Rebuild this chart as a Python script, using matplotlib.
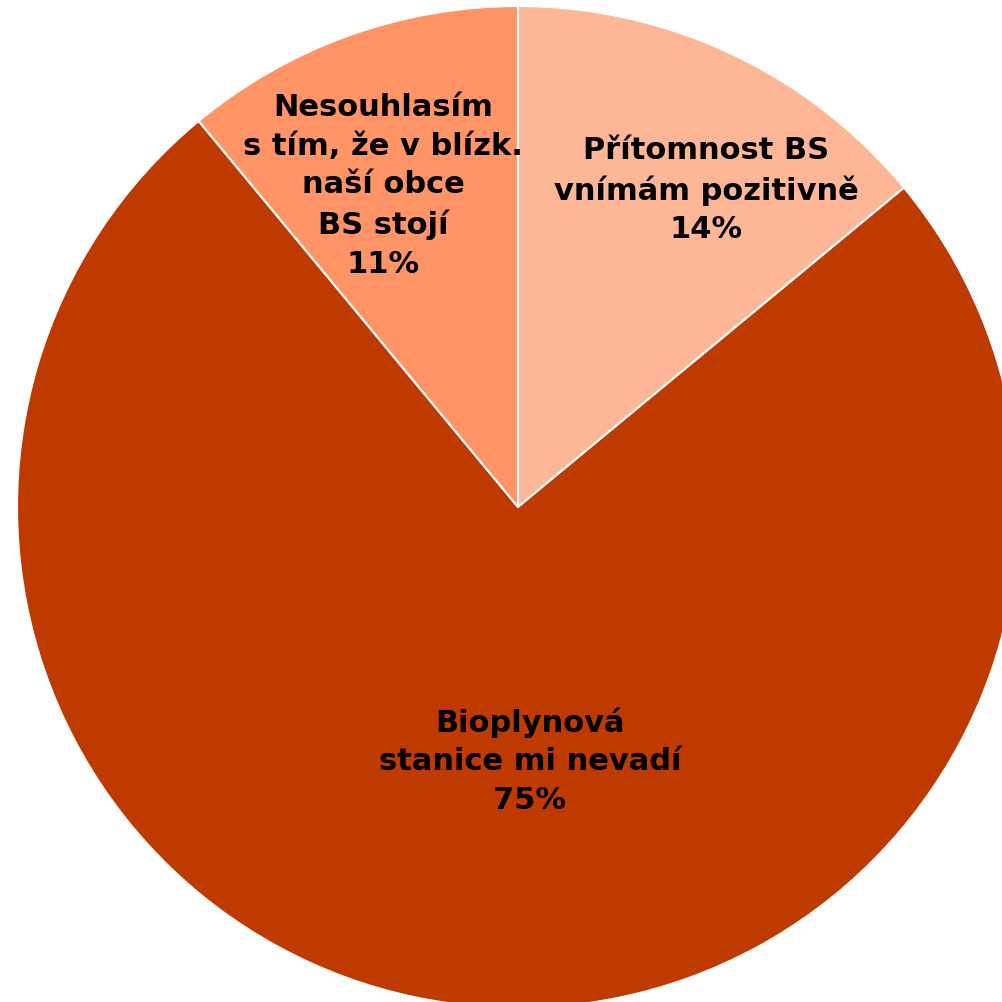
import matplotlib
matplotlib.use("Agg")
import matplotlib.pyplot as plt

labels = ["Přítomnost BS\nvnímám pozitivně\n14%",
          "Bioplynová\nstanice mi nevadí\n75%",
          "Nesouhlasím\ns tím, že v blízk.\nnaší obce\nBS stojí\n11%"]
values = [14, 75, 11]
colors = ["#FDB797", "#BF3A00", "#FF9466"]
label_pos = [(706, 813), (530, 242), (383, 817)]

fig = plt.figure(figsize=(10.02, 10.03), dpi=100)
ax = fig.add_axes([0, 0, 1, 1])
ax.pie(values, colors=colors, startangle=90, counterclock=False,
       center=(518, 495), radius=501,
       wedgeprops=dict(edgecolor="white", linewidth=1.5))
ax.set_xlim(0, 1002)
ax.set_ylim(0, 1003)
ax.set_aspect("equal")
ax.axis("off")
for (x, y), t in zip(label_pos, labels):
    ax.text(x, y, t, ha="center", va="center", multialignment="center",
            fontsize=22, fontweight="bold", family="DejaVu Sans",
            linespacing=1.42, color="black")
fig.savefig("out.png", dpi=100)
